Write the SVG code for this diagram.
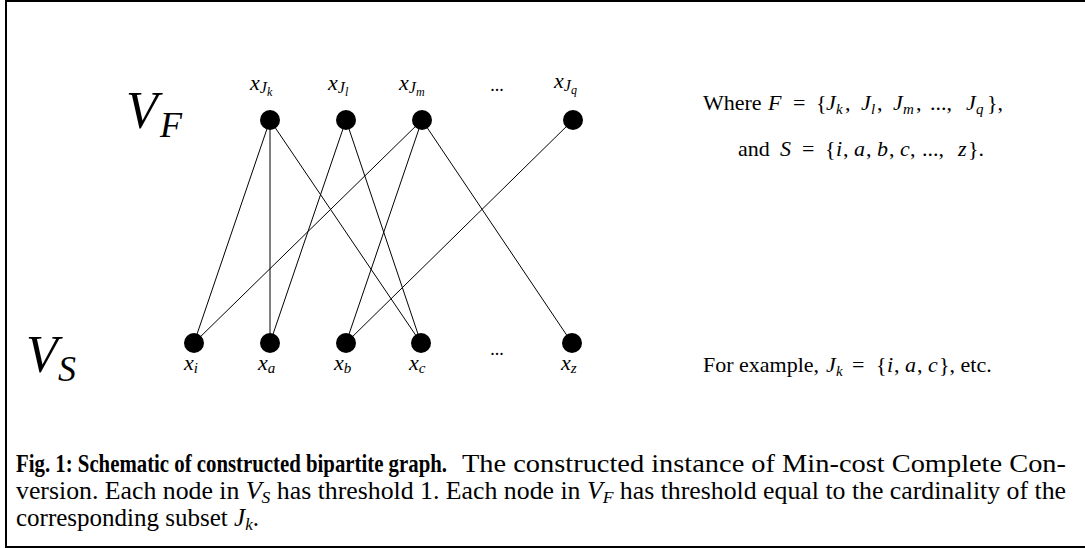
<svg xmlns="http://www.w3.org/2000/svg" width="1085" height="548" viewBox="0 0 1085 548">
<style>
.m{font-family:"Liberation Serif","Times New Roman",serif;font-style:italic;fill:#000}
.t{font-family:"Liberation Serif","Times New Roman",serif;fill:#000}
.node{fill:#000}
.edge{stroke:#000;stroke-width:1;fill:none}
.r text{font-size:22px}
.r .s{font-size:15px}
</style>
<rect x="0" y="0" width="1085" height="548" fill="#fff"/>
<path d="M6,548 V1 H1085 M6,547 H1085" stroke="#000" stroke-width="2" fill="none"/>
<g id="label-VF"><text class="m" x="126" y="128" font-size="52">V</text><text class="m" x="160" y="137" font-size="36">F</text></g>
<g id="label-VS"><text class="m" x="26" y="372" font-size="52">V</text><text class="m" x="58" y="381" font-size="36">S</text></g>
<g id="connectors">
<line class="edge" x1="270" y1="120" x2="194" y2="343"/>
<line class="edge" x1="270" y1="120" x2="270" y2="343"/>
<line class="edge" x1="270" y1="120" x2="421" y2="343"/>
<line class="edge" x1="346" y1="120" x2="270" y2="343"/>
<line class="edge" x1="346" y1="120" x2="421" y2="343"/>
<line class="edge" x1="422" y1="120" x2="194" y2="343"/>
<line class="edge" x1="422" y1="120" x2="346" y2="343"/>
<line class="edge" x1="422" y1="120" x2="572" y2="343"/>
<line class="edge" x1="573" y1="120" x2="346" y2="343"/>
</g>
<g id="node-Jk"><circle class="node" cx="270" cy="120" r="10"/><text class="m" x="250" y="90" font-size="22">x<tspan font-size="16" dy="3">J</tspan><tspan font-size="12" dy="3">k</tspan></text></g>
<g id="node-Jl"><circle class="node" cx="346" cy="120" r="10"/><text class="m" x="328" y="90" font-size="22">x<tspan font-size="16" dy="3">J</tspan><tspan font-size="12" dy="3">l</tspan></text></g>
<g id="node-Jm"><circle class="node" cx="422" cy="120" r="10"/><text class="m" x="399" y="90" font-size="22">x<tspan font-size="16" dy="3">J</tspan><tspan font-size="12" dy="3">m</tspan></text></g>
<text class="t" x="497" y="91" font-size="18" text-anchor="middle">...</text>
<g id="node-Jq"><circle class="node" cx="573" cy="120" r="10"/><text class="m" x="554" y="88" font-size="22">x<tspan font-size="16" dy="3">J</tspan><tspan font-size="12" dy="3">q</tspan></text></g>
<g id="node-i"><circle class="node" cx="194" cy="343" r="10"/><text class="m" x="184" y="370" font-size="22">x<tspan font-size="15" dy="3">i</tspan></text></g>
<g id="node-a"><circle class="node" cx="270" cy="343" r="10"/><text class="m" x="258" y="370" font-size="22">x<tspan font-size="15" dy="3">a</tspan></text></g>
<g id="node-b"><circle class="node" cx="346" cy="343" r="10"/><text class="m" x="334" y="370" font-size="22">x<tspan font-size="15" dy="3">b</tspan></text></g>
<g id="node-c"><circle class="node" cx="421" cy="343" r="10"/><text class="m" x="409" y="370" font-size="22">x<tspan font-size="15" dy="3">c</tspan></text></g>
<text class="t" x="497" y="355" font-size="18" text-anchor="middle">...</text>
<g id="node-z"><circle class="node" cx="572" cy="343" r="10"/><text class="m" x="561" y="370" font-size="22">x<tspan font-size="15" dy="3">z</tspan></text></g>
<g class="r" id="text-F">
<text class="t" x="703" y="110">Where</text>
<text class="m" x="768" y="110">F</text>
<text class="t" x="793" y="110">=</text>
<text class="t" x="816" y="110">{</text>
<text class="m" x="826" y="110">J</text><text class="m s" x="836" y="114">k</text><text class="t" x="845" y="110">,</text>
<text class="m" x="861" y="110">J</text><text class="m s" x="871" y="114">l</text><text class="t" x="877" y="110">,</text>
<text class="m" x="893" y="110">J</text><text class="m s" x="903" y="114">m</text><text class="t" x="916" y="110">,</text>
<text class="t" x="930" y="110">...,</text>
<text class="m" x="966" y="110">J</text><text class="m s" x="976" y="114">q</text>
<text class="t" x="987" y="110">},</text>
</g>
<g class="r" id="text-S">
<text class="t" x="738" y="156">and</text>
<text class="m" x="780" y="156">S</text>
<text class="t" x="802" y="156">=</text>
<text class="t" x="825" y="156">{</text>
<text class="m" x="836" y="156">i</text><text class="t" x="843" y="156">,</text>
<text class="m" x="854" y="156">a</text><text class="t" x="866" y="156">,</text>
<text class="m" x="877" y="156">b</text><text class="t" x="889" y="156">,</text>
<text class="m" x="900" y="156">c</text><text class="t" x="910" y="156">,</text>
<text class="t" x="922" y="156">...,</text>
<text class="m" x="958" y="156">z</text>
<text class="t" x="968" y="156">}.</text>
</g>
<g class="r" id="text-example">
<text class="t" x="703" y="372">For example,</text>
<text class="m" x="826" y="372">J</text><text class="m s" x="836" y="376">k</text>
<text class="t" x="852" y="372">=</text>
<text class="t" x="876" y="372">{</text>
<text class="m" x="887" y="372">i</text><text class="t" x="894" y="372">,</text>
<text class="m" x="905" y="372">a</text><text class="t" x="917" y="372">,</text>
<text class="m" x="928" y="372">c</text>
<text class="t" x="939" y="372">}, etc.</text>
</g>
<g id="caption" font-size="25">
<text class="t" x="16" y="472" textLength="431" lengthAdjust="spacingAndGlyphs" font-weight="bold">Fig. 1: Schematic of constructed bipartite graph.</text>
<text class="t" x="462" y="472" textLength="604" lengthAdjust="spacingAndGlyphs">The constructed instance of Min-cost Complete Con-</text>
<text class="t" x="16" y="499" textLength="1050" lengthAdjust="spacingAndGlyphs">version.  Each node in <tspan font-style="italic">V</tspan><tspan font-style="italic" font-size="17" dy="4">S</tspan><tspan dy="-4"> has threshold 1.  Each node in </tspan><tspan font-style="italic">V</tspan><tspan font-style="italic" font-size="17" dy="4">F</tspan><tspan dy="-4"> has threshold equal to the cardinality of the</tspan></text>
<text class="t" x="16" y="526">corresponding subset <tspan font-style="italic">J</tspan><tspan font-style="italic" font-size="17" dy="4">k</tspan><tspan dy="-4">.</tspan></text>
</g>
</svg>
